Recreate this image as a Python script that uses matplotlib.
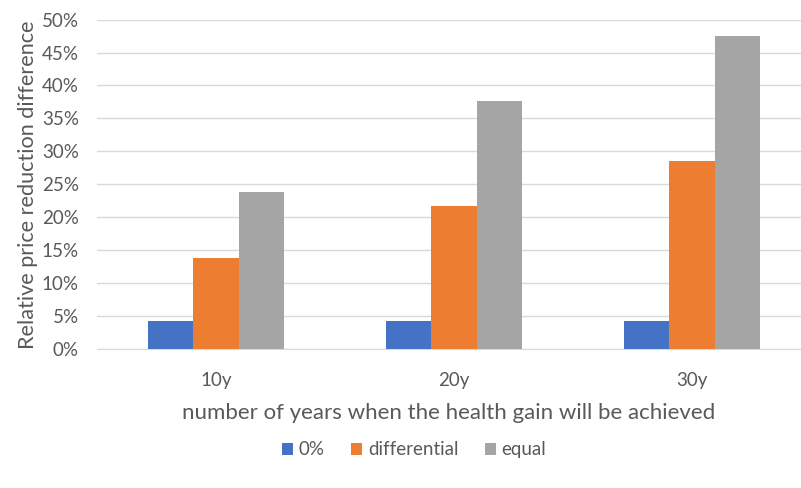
import numpy as np
import matplotlib
matplotlib.use("Agg")
import matplotlib.pyplot as plt
from matplotlib.ticker import PercentFormatter, MultipleLocator

plt.rcParams["font.family"] = ["Lato", "DejaVu Sans"]

categories = ["10y", "20y", "30y"]
series_names = ["0%", "differential", "equal"]
zero_pct = [0.043, 0.043, 0.043]
differential = [0.138, 0.218, 0.286]
equal = [0.238, 0.377, 0.475]

COLOURS = ["#4472C4", "#ED7D31", "#A5A5A5"]
TXT = "#595959"
GRID = "#D9D9D9"

fig = plt.figure(figsize=(8.01, 4.88), dpi=100, facecolor="white")
ax = fig.add_axes([0.121, 0.284, 0.879, 0.676])

x = np.arange(len(categories))
w = 0.19
for i, (vals, name) in enumerate(zip([zero_pct, differential, equal], series_names)):
    ax.bar(x + (i - 1) * w, vals, width=w, color=COLOURS[i], label=name, zorder=3)

ax.set_ylim(0, 0.5)
ax.set_xlim(-0.5, 2.458)
ax.yaxis.set_major_locator(MultipleLocator(0.05))
ax.yaxis.set_major_formatter(PercentFormatter(1.0, decimals=0))
ax.grid(axis="y", color=GRID, lw=1.0, zorder=0)
ax.set_xticks(x)
ax.set_xticklabels(categories)
ax.tick_params(axis="both", length=0, colors=TXT, labelsize=13.5)
ax.tick_params(axis="y", pad=13)
ax.tick_params(axis="x", pad=16)
for s in ["top", "right", "left"]:
    ax.spines[s].set_visible(False)
ax.spines["bottom"].set_color(GRID)

ax.set_ylabel("Relative price reduction difference", color=TXT, fontsize=15.6, labelpad=3)
ax.set_xlabel("number of years when the health gain will be achieved", color=TXT,
              fontsize=16, labelpad=10)

fig.legend(loc="center", bbox_to_anchor=(0.517, 0.078), ncol=3, frameon=False,
           fontsize=13.5, handlelength=0.6, handleheight=0.6, handletextpad=0.3,
           columnspacing=1.4, labelcolor=TXT)

fig.savefig("out.png", dpi=100, facecolor="white")
